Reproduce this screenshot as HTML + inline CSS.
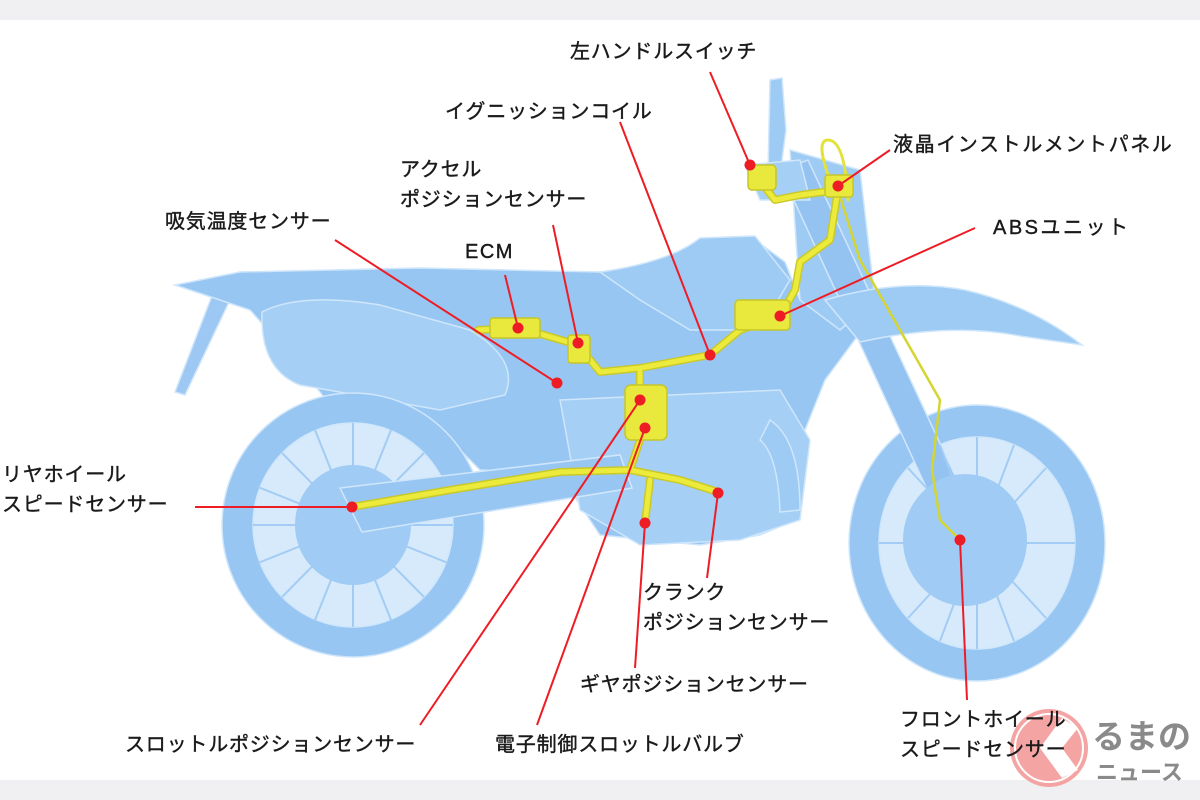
<!DOCTYPE html>
<html><head><meta charset="utf-8"><style>
html,body{margin:0;padding:0;background:#fff;}
body{width:1200px;height:800px;position:relative;overflow:hidden;font-family:"Liberation Sans","Noto Sans CJK JP",sans-serif;}
.t{position:absolute;font-size:20px;color:#1a1a1a;line-height:30px;white-space:nowrap;letter-spacing:0.8px;-webkit-text-stroke:0.4px #1a1a1a;}
</style></head><body>
<svg width="1200" height="800" style="position:absolute;left:0;top:0">
<rect x="0" y="0" width="1200" height="20" fill="#f0f0f2"/>
<rect x="0" y="780" width="1200" height="20" fill="#f0f0f2"/>
<g stroke="#cfe6fb" stroke-width="1.5">
<path d="M215,288 L230,300 L185,395 L175,392 Z" fill="#9cc8f3"/>
<path d="M175,285 L240,272 L420,268 L600,272 Q670,266 700,240 L750,236 L785,262 L800,300 L850,300 L862,330 L825,380 L805,430 L795,520 L760,535 L700,545 L600,535 L560,475 L480,470 L430,420 L330,405 L295,360 L250,310 Z" fill="#98c6f2"/>
<path d="M262,312 Q300,292 380,305 L470,330 Q520,360 505,395 L440,410 L300,385 Q260,370 262,312 Z" fill="#a5cff5"/>
<path d="M600,272 Q670,262 700,238 L755,236 L790,280 L760,330 L690,330 L640,300 Z" fill="#9ecbf4"/>
<path d="M560,400 L780,390 L810,440 L800,520 L740,540 L640,545 L580,510 Z" fill="#a5cff5"/>
<path d="M340,488 L620,455 L632,488 L362,532 Z" fill="#98c6f2"/>
<ellipse cx="353" cy="525" rx="131" ry="132" fill="#98c6f2"/>
<ellipse cx="353" cy="525" rx="100" ry="102" fill="#d6eafb"/>
<ellipse cx="977" cy="543" rx="128" ry="138" fill="#98c6f2"/>
<ellipse cx="977" cy="543" rx="98" ry="106" fill="#d6eafb"/>
<path d="M790,150 L860,170 L875,300 L840,330 L800,300 Z" fill="#9ecbf4"/>
<path d="M780,170 L808,160 L985,540 L955,550 Z" fill="#94c3f2"/>
<path d="M825,300 Q900,278 965,290 Q1030,305 1082,345 L1020,336 Q950,322 860,342 Z" fill="#9ecbf4"/>
<path d="M770,80 L782,78 L786,130 L780,175 L768,172 Z" fill="#9ecbf4"/>
<path d="M745,165 L800,160 L810,200 L760,200 Z" fill="#a5cff5"/>
<path d="M770,420 Q800,440 800,510 L780,512 Q778,455 760,440 Z" fill="#9ecbf4"/>
</g>
<g stroke="#a3ccf4" stroke-width="2">
<line x1="353" y1="423" x2="353" y2="627"/><line x1="253" y1="525" x2="453" y2="525"/>
<line x1="282" y1="453" x2="424" y2="597"/><line x1="424" y1="453" x2="282" y2="597"/>
<line x1="315" y1="430" x2="391" y2="620"/><line x1="391" y1="430" x2="315" y2="620"/>
<line x1="258" y1="487" x2="448" y2="563"/><line x1="258" y1="563" x2="448" y2="487"/>
<line x1="977" y1="437" x2="977" y2="649"/><line x1="879" y1="543" x2="1075" y2="543"/>
<line x1="908" y1="468" x2="1046" y2="618"/><line x1="1046" y1="468" x2="908" y2="618"/>
<line x1="940" y1="445" x2="1014" y2="641"/><line x1="1014" y1="445" x2="940" y2="641"/>
</g>
<ellipse cx="353" cy="525" rx="58" ry="60" fill="#a0cbf4"/>
<ellipse cx="965" cy="540" rx="62" ry="66" fill="#a0cbf4"/>
<path d="M340,488 L620,455 L632,488 L362,532 Z" fill="#98c6f2" stroke="#cfe6fb" stroke-width="1.5"/>
<g fill="none" stroke-linecap="round" stroke-linejoin="round">
<g stroke="#c9c92a" stroke-width="8">
<path d="M478,330 L520,328 L578,345 L600,372 L640,368 L710,355 L740,330 L780,316 L795,290 L800,262 L830,240 L838,190"/>
<path d="M838,190 L800,195 L775,200 L755,175"/>
<path d="M640,372 L640,440 L630,470 L560,472 L450,490 L352,507"/>
<path d="M630,470 L680,480 L718,492"/><path d="M650,480 L645,523"/>
</g>
<g stroke="#eceb3c" stroke-width="5">
<path d="M478,330 L520,328 L578,345 L600,372 L640,368 L710,355 L740,330 L780,316 L795,290 L800,262 L830,240 L838,190"/>
<path d="M838,190 L800,195 L775,200 L755,175"/>
<path d="M640,372 L640,440 L630,470 L560,472 L450,490 L352,507"/>
<path d="M630,470 L680,480 L718,492"/><path d="M650,480 L645,523"/>
</g>
<path d="M838,190 L860,260 L900,330 L940,400 L932,470 L940,520 L960,540" stroke="#d5d530" stroke-width="2.5"/>
<path d="M830,180 Q815,140 828,140 Q845,140 848,200" stroke="#e2e23a" stroke-width="3"/>
</g>
<g fill="#e9e83c" stroke="#c6c628" stroke-width="1.5">
<rect x="490" y="318" width="50" height="20" rx="3"/>
<rect x="735" y="300" width="55" height="30" rx="4"/>
<rect x="625" y="385" width="42" height="55" rx="6"/>
<rect x="748" y="165" width="28" height="25" rx="4"/>
<rect x="825" y="175" width="28" height="22" rx="3"/>
<rect x="568" y="335" width="22" height="28" rx="3"/>
</g>
<g stroke="#ee1c24" stroke-width="2">
<line x1="710" y1="72" x2="750" y2="165"/>
<line x1="620" y1="122" x2="710" y2="355"/>
<line x1="890" y1="150" x2="838" y2="186"/>
<line x1="553" y1="225" x2="578" y2="343"/>
<line x1="505" y1="275" x2="518" y2="328"/>
<line x1="335" y1="240" x2="557" y2="383"/>
<line x1="975" y1="228" x2="780" y2="316"/>
<line x1="195" y1="507" x2="352" y2="507"/>
<line x1="420" y1="725" x2="640" y2="400"/>
<line x1="537" y1="725" x2="645" y2="428"/>
<line x1="635" y1="668" x2="645" y2="523"/>
<line x1="707" y1="578" x2="718" y2="493"/>
<line x1="967" y1="700" x2="960" y2="540"/>
</g>
<g fill="#ee1c24">
<circle cx="750" cy="165" r="5.5"/><circle cx="710" cy="355" r="5.5"/><circle cx="838" cy="186" r="5.5"/>
<circle cx="578" cy="343" r="5.5"/><circle cx="518" cy="328" r="5.5"/><circle cx="557" cy="383" r="5.5"/>
<circle cx="780" cy="316" r="5.5"/><circle cx="352" cy="507" r="5.5"/><circle cx="640" cy="400" r="5.5"/>
<circle cx="645" cy="428" r="5.5"/><circle cx="645" cy="523" r="5.5"/><circle cx="718" cy="493" r="5.5"/>
<circle cx="960" cy="540" r="5.5"/>
</g>
<circle cx="1049" cy="748" r="39" fill="#f49a9a" opacity="0.9"/>
<circle cx="1049" cy="748" r="34" fill="none" stroke="#fff" stroke-width="2"/>
<path d="M1062,718 L1040,748 L1062,778 L1078,770 L1062,748 L1078,728 Z" fill="#fff"/>
</svg>
<div class="t" style="left:570px;top:37px">左ハンドルスイッチ</div>
<div class="t" style="left:445px;top:97px">イグニッションコイル</div>
<div class="t" style="left:893px;top:130px;letter-spacing:1.6px">液晶インストルメントパネル</div>
<div class="t" style="left:400px;top:155px">アクセル<br>ポジションセンサー</div>
<div class="t" style="left:165px;top:207px">吸気温度センサー</div>
<div class="t" style="left:993px;top:213px;letter-spacing:2.5px">ABSユニット</div>
<div class="t" style="left:465px;top:237px;letter-spacing:1.5px">ECM</div>
<div class="t" style="left:2px;top:460px">リヤホイール<br>スピードセンサー</div>
<div class="t" style="left:643px;top:578px">クランク<br>ポジションセンサー</div>
<div class="t" style="left:580px;top:670px">ギヤポジションセンサー</div>
<div class="t" style="left:125px;top:730px">スロットルポジションセンサー</div>
<div class="t" style="left:495px;top:730px">電子制御スロットルバルブ</div>
<div class="t" style="left:900px;top:705px">フロントホイール<br>スピードセンサー</div>
<div style="position:absolute;left:1092px;top:712px;font-size:33px;font-weight:bold;color:#8a8a8a;line-height:44px;white-space:nowrap;font-family:'Noto Sans CJK JP',sans-serif">るまの</div>
<div style="position:absolute;left:1096px;top:758px;font-size:22px;font-weight:bold;color:#8a8a8a;line-height:26px;white-space:nowrap;font-family:'Noto Sans CJK JP',sans-serif">ニュース</div>
</body></html>
